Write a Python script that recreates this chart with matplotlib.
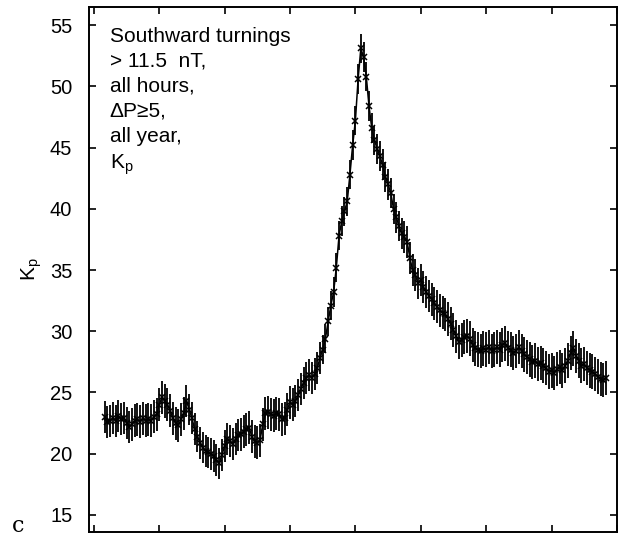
import numpy as np
import matplotlib
matplotlib.use("Agg")
from matplotlib import pyplot as plt

plt.rcParams.update({"font.family": ["Liberation Sans", "DejaVu Sans"],
                     "mathtext.fontset": "custom",
                     "mathtext.rm": "Liberation Sans",
                     "mathtext.it": "Liberation Sans",
                     "font.size": 15})

# hours relative to the southward turning, one point per hour
hours = np.arange(-92, 93)

# Kp (x10)
kp = [23.0, 22.6, 22.7, 22.9, 22.7, 23.1, 22.8, 22.9, 22.5, 22.2,
      22.4, 22.7, 22.8, 22.6, 22.9, 22.7, 22.8, 22.7, 23.0, 23.2,
      24.0, 24.6, 24.3, 24.0, 23.5, 22.9, 22.5, 22.3, 22.8, 23.3,
      24.3, 23.6, 22.9, 22.0, 21.4, 20.9, 20.5, 20.2, 20.1, 20.0,
      19.8, 19.5, 19.2, 19.9, 20.6, 21.2, 21.0, 20.8, 21.2, 21.5,
      21.6, 21.8, 22.0, 22.1, 21.4, 21.0, 20.9, 21.1, 22.4, 23.3,
      23.4, 23.2, 23.1, 23.3, 23.2, 22.8, 22.9, 23.6, 24.2, 24.0,
      24.3, 24.8, 25.3, 25.8, 26.2, 26.4, 26.2, 26.5, 27.0, 27.8,
      28.5, 29.4, 30.8, 32.1, 33.2, 35.2, 37.8, 39.0, 39.8, 40.6,
      42.8, 45.2, 47.2, 50.6, 53.1, 52.4, 50.8, 48.4, 46.6, 45.6,
      44.9, 44.3, 43.6, 42.6, 42.0, 41.3, 40.0, 39.3, 38.6, 38.0,
      37.7, 37.3, 36.0, 35.0, 34.6, 33.9, 34.2, 33.6, 33.2, 32.9,
      32.6, 32.3, 32.0, 31.7, 31.5, 31.4, 31.0, 30.6, 30.1, 29.6,
      29.1, 29.3, 29.5, 29.6, 29.4, 28.9, 28.6, 28.5, 28.4, 28.6,
      28.5, 28.7, 28.4, 28.5, 28.7, 28.5, 28.9, 29.0, 28.6, 28.5,
      28.2, 28.4, 28.7, 28.4, 28.1, 27.9, 27.7, 27.5, 27.6, 27.3,
      27.4, 27.2, 27.0, 26.7, 26.8, 26.6, 26.9, 27.1, 26.8, 27.2,
      27.6, 28.2, 28.6, 28.0, 27.6, 27.2, 27.3, 27.0, 26.8, 26.7,
      26.5, 26.3, 26.1, 26.0, 26.2]

# half length of the error bars, one value per block of ten hours
err_blocks = [1.3, 1.35, 1.35, 1.3, 1.3, 1.35, 1.35, 1.3, 1.2, 1.2,
              1.25, 1.3, 1.35, 1.4, 1.4, 1.4, 1.4, 1.4, 1.4]
err = np.repeat(err_blocks, 10)[:len(kp)]

y_ticks = [15, 20, 25, 30, 35, 40, 45, 50, 55]
x_ticks = [-96, -72, -48, -24, 0, 24, 48, 72, 96]

fig = plt.figure(figsize=(6.2, 5.37), dpi=100)
ax = fig.add_axes([0.1435, 0.0093, 0.8515, 0.978])

ax.errorbar(hours, kp, yerr=err, fmt='-', color='black', ecolor='black',
            elinewidth=1.3, linewidth=1.1, marker='x', markersize=4,
            markeredgewidth=1.1, capsize=0)

ax.set_xlim(-97.8, 96)
ax.set_ylim(13.6, 56.5)
ax.set_xticks(x_ticks)
ax.set_xticklabels([])
ax.set_yticks(y_ticks)
ax.tick_params(direction='in', top=True, right=True, length=5, width=1.2,
               labelsize=14.5, pad=12)
for s in ax.spines.values():
    s.set_linewidth(1.4)

ax.set_ylabel("K$_\\mathrm{p}$", fontsize=15)
ax.yaxis.set_label_coords(-0.085, 0.5)

ax.text(0.039, 0.962, "Southward turnings\n> 11.5  nT,\nall hours,\n\u0394P\u22655,\nall year,\nK$_\\mathrm{p}$",
        transform=ax.transAxes, ha='left', va='top', fontsize=15, linespacing=1.4)

fig.text(0.029, 0.02, "c", fontsize=16, family="DejaVu Serif", ha='center', va='center')

fig.savefig("out.png", dpi=100)
